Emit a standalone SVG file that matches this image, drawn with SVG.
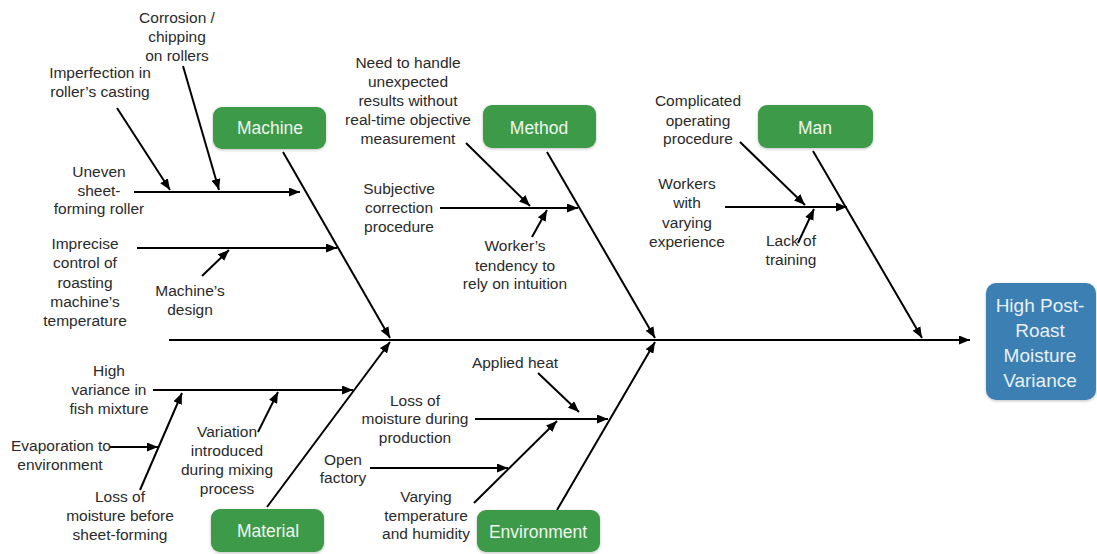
<svg xmlns="http://www.w3.org/2000/svg" width="1097" height="554" viewBox="0 0 1097 554">
<style>
.t{font-family:"Liberation Sans",Arial,sans-serif;font-size:15.5px;fill:#2a2a2a;text-anchor:middle}
.bl{font-family:"Liberation Sans",Arial,sans-serif;font-size:17.5px;fill:#eef6ee;text-anchor:middle}
.rl{font-family:"Liberation Sans",Arial,sans-serif;font-size:19px;fill:#e9f1f8;text-anchor:middle}
.g{fill:#3c9a48}
.c line{stroke:#000;stroke-width:2;marker-end:url(#ah)}
</style>
<defs>
<marker id="ah" markerUnits="userSpaceOnUse" markerWidth="11" markerHeight="9" refX="11" refY="4.5" orient="auto"><path d="M0,0 L11,4.5 L0,9 z" fill="#000"/></marker>
<filter id="sh" x="-10%" y="-10%" width="120%" height="130%"><feDropShadow dx="0" dy="1" stdDeviation="1.5" flood-color="#000" flood-opacity="0.25"/></filter>
</defs>
<rect width="1097" height="554" fill="#fff"/>
<g class="c" id="connectors">
<line x1="169" y1="340" x2="970" y2="340"/>
<line x1="283" y1="152" x2="390" y2="338"/>
<line x1="134" y1="192" x2="300" y2="192"/>
<line x1="117" y1="108" x2="170" y2="190"/>
<line x1="183" y1="66" x2="219" y2="190"/>
<line x1="137" y1="248" x2="337" y2="248"/>
<line x1="202" y1="276" x2="229" y2="250"/>
<line x1="547" y1="152" x2="655" y2="338"/>
<line x1="440" y1="208" x2="578" y2="208"/>
<line x1="466" y1="143" x2="530" y2="206"/>
<line x1="532" y1="237" x2="547" y2="210"/>
<line x1="813" y1="151" x2="922" y2="338"/>
<line x1="725" y1="207" x2="847" y2="207"/>
<line x1="740" y1="142" x2="805" y2="205"/>
<line x1="798" y1="243" x2="814" y2="209"/>
<line x1="267" y1="507" x2="390" y2="342"/>
<line x1="153" y1="390" x2="353" y2="390"/>
<line x1="258" y1="432" x2="278" y2="392"/>
<line x1="140" y1="490" x2="182" y2="393"/>
<line x1="110" y1="447" x2="158" y2="447"/>
<line x1="557" y1="510" x2="655" y2="342"/>
<line x1="475" y1="419" x2="608" y2="419"/>
<line x1="538" y1="373" x2="579" y2="412"/>
<line x1="474" y1="503" x2="557" y2="421"/>
<line x1="370" y1="468" x2="508" y2="468"/>
</g>
<g id="machine"><rect class="g" x="213" y="107" width="113" height="42" rx="9" filter="url(#sh)"/><text class="bl" x="270" y="134">Machine</text></g>
<g id="method"><rect class="g" x="483" y="105" width="113" height="43" rx="9" filter="url(#sh)"/><text class="bl" x="539" y="134">Method</text></g>
<g id="man"><rect class="g" x="758" y="105" width="115" height="43" rx="9" filter="url(#sh)"/><text class="bl" x="815" y="134">Man</text></g>
<g id="material"><rect class="g" x="211" y="509" width="113" height="43" rx="9" filter="url(#sh)"/><text class="bl" x="268" y="537">Material</text></g>
<g id="environment"><rect class="g" x="477" y="510" width="123" height="42" rx="9" filter="url(#sh)"/><text class="bl" x="538" y="538">Environment</text></g>
<g id="result"><rect x="986" y="283" width="110" height="117" rx="10" fill="#3a7fb3" filter="url(#sh)"/>
<text class="rl" x="1040" y="311.5">High Post-</text><text class="rl" x="1040" y="336.5">Roast</text><text class="rl" x="1040" y="361.5">Moisture</text><text class="rl" x="1040" y="386.5">Variance</text></g>
<g id="corrosion"><text class="t" x="177" y="23">Corrosion /</text><text class="t" x="177" y="42">chipping</text><text class="t" x="177" y="61">on rollers</text></g>
<g id="imperfection"><text class="t" x="100" y="78">Imperfection in</text><text class="t" x="100" y="97">roller’s casting</text></g>
<g id="uneven"><text class="t" x="99" y="177">Uneven</text><text class="t" x="99" y="196">sheet-</text><text class="t" x="99" y="214">forming roller</text></g>
<g id="imprecise"><text class="t" x="85" y="249">Imprecise</text><text class="t" x="85" y="268">control of</text><text class="t" x="85" y="288">roasting</text><text class="t" x="85" y="307">machine’s</text><text class="t" x="85" y="326">temperature</text></g>
<g id="machines-design"><text class="t" x="190" y="296">Machine’s</text><text class="t" x="190" y="315">design</text></g>
<g id="need"><text class="t" x="408" y="68">Need to handle</text><text class="t" x="408" y="87">unexpected</text><text class="t" x="408" y="106">results without</text><text class="t" x="408" y="125">real-time objective</text><text class="t" x="408" y="144">measurement</text></g>
<g id="subjective"><text class="t" x="399" y="194">Subjective</text><text class="t" x="399" y="213">correction</text><text class="t" x="399" y="232">procedure</text></g>
<g id="tendency"><text class="t" x="515" y="251">Worker’s</text><text class="t" x="515" y="271">tendency to</text><text class="t" x="515" y="289">rely on intuition</text></g>
<g id="complicated"><text class="t" x="698" y="106">Complicated</text><text class="t" x="698" y="126">operating</text><text class="t" x="698" y="144">procedure</text></g>
<g id="workers"><text class="t" x="687" y="189">Workers</text><text class="t" x="687" y="208">with</text><text class="t" x="687" y="228">varying</text><text class="t" x="687" y="247">experience</text></g>
<g id="lack"><text class="t" x="791" y="246">Lack of</text><text class="t" x="791" y="265">training</text></g>
<g id="high-variance"><text class="t" x="109" y="376">High</text><text class="t" x="109" y="395">variance in</text><text class="t" x="109" y="414">fish mixture</text></g>
<g id="evaporation"><text class="t" x="61" y="451">Evaporation to</text><text class="t" x="60" y="470">environment</text></g>
<g id="loss-before"><text class="t" x="120" y="502">Loss of</text><text class="t" x="120" y="521">moisture before</text><text class="t" x="120" y="540">sheet-forming</text></g>
<g id="variation"><text class="t" x="227" y="437">Variation</text><text class="t" x="227" y="456">introduced</text><text class="t" x="227" y="475">during mixing</text><text class="t" x="227" y="494">process</text></g>
<g id="applied-heat"><text class="t" x="515" y="368">Applied heat</text></g>
<g id="loss-during"><text class="t" x="415" y="406">Loss of</text><text class="t" x="415" y="424">moisture during</text><text class="t" x="415" y="443">production</text></g>
<g id="open-factory"><text class="t" x="343" y="465">Open</text><text class="t" x="343" y="483">factory</text></g>
<g id="varying"><text class="t" x="426" y="502">Varying</text><text class="t" x="426" y="521">temperature</text><text class="t" x="426" y="539">and humidity</text></g>
</svg>
